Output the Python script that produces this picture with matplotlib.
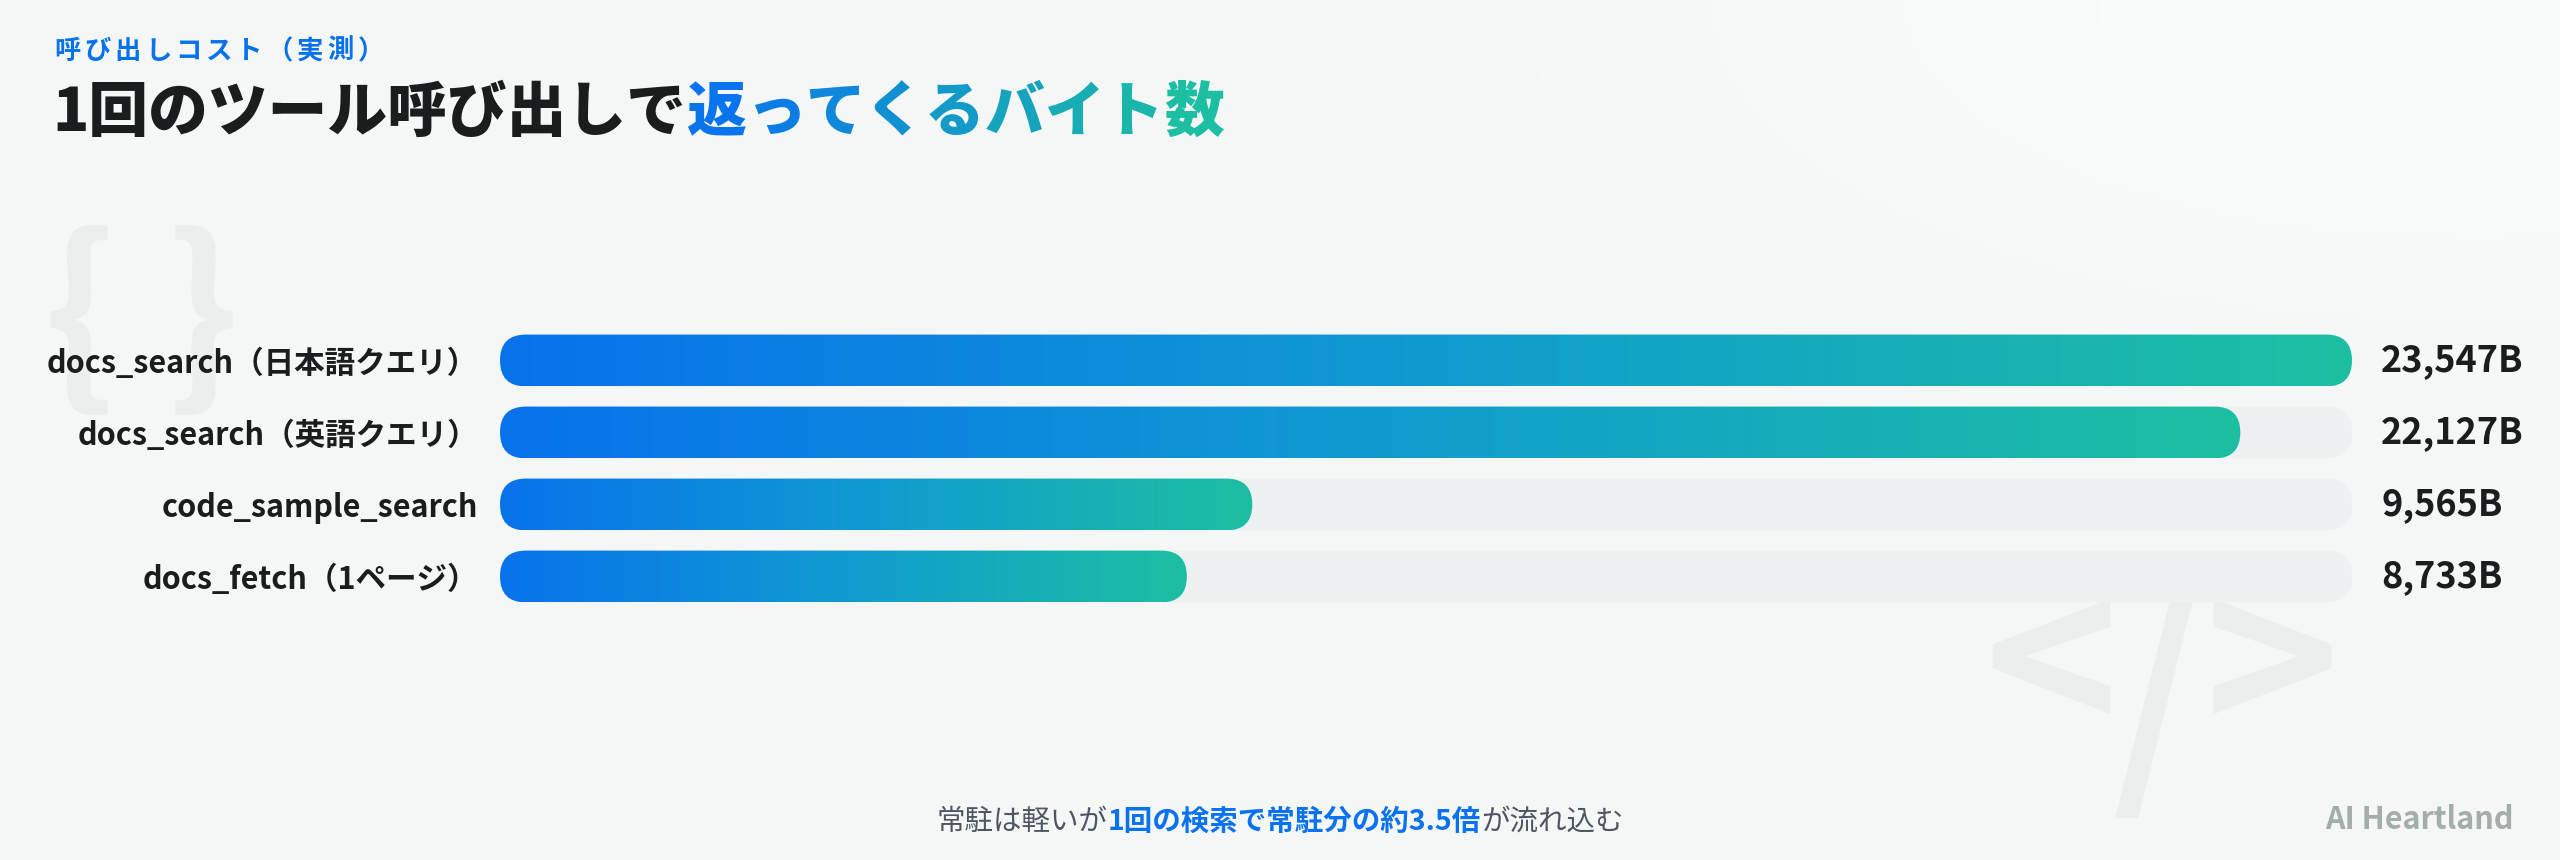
import numpy as np
import matplotlib.pyplot as plt
from matplotlib.patches import FancyBboxPatch
from matplotlib.colors import to_rgb, LinearSegmentedColormap

plt.rcParams['font.family'] = ['Noto Sans CJK JP', 'DejaVu Sans']

# data
tools = ["docs_search（日本語クエリ）", "docs_search（英語クエリ）",
         "code_sample_search", "docs_fetch（1ページ）"]
bytes_returned = [23547, 22127, 9565, 8733]
value_labels = [f"{v:,}B" for v in bytes_returned]

subtitle = "呼び出しコスト（実測）"
title_plain = "1回のツール呼び出しで"
title_accent = "返ってくるバイト数"
note_parts = [("常駐は軽いが", False), ("1回の検索で常駐分の約3.5倍", True), ("が流れ込む", False)]
brand = "AI Heartland"

BLUE = '#0872ec'
TEAL = '#1dbfa2'
INK = '#1a1c1e'
TRACK = '#eef1f2'
MARK = '#eceeee'

W, H = 2560, 860
fig = plt.figure(figsize=(W / 100, H / 100), dpi=100)
fig.patch.set_facecolor('#f6f8f8')

# soft background glow in the upper right
bg = fig.add_axes([0, 0, 1, 1], zorder=0)
bg.set_axis_off()
yy, xx = np.mgrid[0:1:172j, 0:1:512j]
d = np.sqrt(((xx - 0.97) / 0.45) ** 2 + ((yy - 0.0) / 0.55) ** 2)
glow = np.clip(1 - d, 0, 1)[..., None]
base = np.array(to_rgb('#f5f7f7'))
light = np.array(to_rgb('#fbfcfc'))
bg.imshow(base + (light - base) * glow, extent=(0, 1, 1, 0), aspect='auto')
bg.set_xlim(0, 1)
bg.set_ylim(1, 0)

# watermarks
wm = dict(color=MARK, fontweight='bold', ha='center', va='center', zorder=1)
fig.text(80 / W, 1 - 324 / H, "{", fontsize=140, **wm)
fig.text(202 / W, 1 - 324 / H, "}", fontsize=140, **wm)
fig.text(2051 / W, 1 - 676 / H, "<", fontsize=165, **wm)
fig.text(2157 / W, 1 - 708 / H, "/", fontsize=168, **wm)
fig.text(2272 / W, 1 - 676 / H, ">", fontsize=165, **wm)

# bar axes
ax = fig.add_axes([500 / W, 1 - 612.5 / H, 1852 / W, 288 / H], zorder=2)
ax.set_facecolor('none')
for s in ax.spines.values():
    s.set_visible(False)
xmax = max(bytes_returned)
ax.set_xlim(0, xmax)
ax.set_ylim(len(tools) - 0.5, -0.5)
ax.set_autoscale_on(False)
ax.set_xticks([])
ax.set_yticks(range(len(tools)))
ax.set_yticklabels(tools, fontsize=22, fontweight='bold', color=INK)
ax.tick_params(axis='y', length=0, pad=16)

p0 = ax.transData.transform((0, 0))
p1 = ax.transData.transform((1, 1))
px_x = abs(p1[0] - p0[0])
px_y = abs(p1[1] - p0[1])
bh = 0.72
radius = bh * px_y / 2 / px_x
aspect = px_x / px_y
style = f"round,pad=0,rounding_size={radius}"

cmap = LinearSegmentedColormap.from_list('bar', [BLUE, '#109bd0', TEAL])
grad = np.linspace(0, 1, 256)[None, :]

for i, v in enumerate(bytes_returned):
    track = FancyBboxPatch((0, i - bh / 2), xmax, bh, boxstyle=style,
                           mutation_aspect=aspect, fc=TRACK, ec='none', zorder=1)
    ax.add_patch(track)
    bar = FancyBboxPatch((0, i - bh / 2), v, bh, boxstyle=style,
                         mutation_aspect=aspect, fc='none', ec='none', zorder=2)
    ax.add_patch(bar)
    im = ax.imshow(grad, extent=(0, v, i + bh / 2, i - bh / 2), aspect='auto',
                   cmap=cmap, zorder=2, interpolation='bilinear')
    im.set_clip_path(bar)
    ax.annotate(value_labels[i], xy=(1, i), xycoords=('axes fraction', 'data'),
                xytext=(21, 0), textcoords='offset points', ha='left', va='center',
                fontsize=26, fontweight='bold', color=INK)

renderer = fig.canvas.get_renderer()

# subtitle with letter spacing
x = 54
for ch in subtitle:
    t = fig.text(x / W, 1 - 59 / H, ch, fontsize=19, fontweight='bold', color=BLUE, va='baseline')
    x += t.get_window_extent(renderer).width + 4

# title, second half in gradient
t = fig.text(52 / W, 1 - 131 / H, title_plain, fontsize=43, fontweight='heavy', color=INK, va='baseline')
x = 52 + t.get_window_extent(renderer).width
tc = LinearSegmentedColormap.from_list('title', ['#0a74ee', TEAL])
for k, ch in enumerate(title_accent):
    t = fig.text(x / W, 1 - 131 / H, ch, fontsize=43, fontweight='heavy',
                 color=tc(k / (len(title_accent) - 1)), va='baseline')
    x += t.get_window_extent(renderer).width

# footer note, centred
pieces = []
for txt, strong in note_parts:
    t = fig.text(0, 1 - 830 / H, txt, fontsize=20.5, va='baseline',
                 fontweight='bold' if strong else 'normal',
                 color='#0a72ee' if strong else '#4f5663')
    pieces.append(t)
widths = [p.get_window_extent(renderer).width for p in pieces]
x = W / 2 - sum(widths) / 2
for p, w in zip(pieces, widths):
    p.set_x(x / W)
    x += w

fig.text(2514 / W, 1 - 829 / H, brand, fontsize=22, fontweight='bold',
         color='#a3aeaa', ha='right', va='baseline')

fig.savefig('out.png', dpi=100, facecolor=fig.get_facecolor())
